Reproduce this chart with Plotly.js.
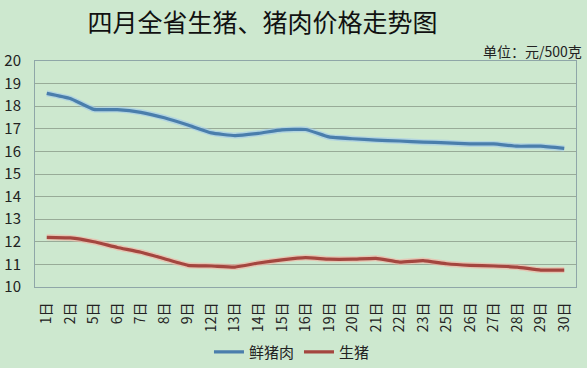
<!DOCTYPE html>
<html>
<head>
<meta charset="utf-8">
<script src="https://cdn.plot.ly/plotly-3.0.1.min.js"></script>
<style>html,body{margin:0;padding:0;background:#cde8cf;}#chart{width:587px;height:368px;}</style>
</head>
<body>
<div id="chart"></div>
<script>
const days = ["1日","2日","5日","6日","7日","8日","9日","12日","13日","14日","15日","16日","19日","20日","21日","22日","23日","25日","26日","27日","28日","29日","30日"];
const freshPork = [18.57,18.34,17.86,17.85,17.73,17.49,17.17,16.82,16.7,16.8,16.95,16.97,16.64,16.56,16.5,16.46,16.41,16.38,16.33,16.33,16.23,16.23,16.13];
const livePig = [12.2,12.17,12.0,11.75,11.54,11.25,10.96,10.93,10.88,11.06,11.2,11.3,11.23,11.23,11.27,11.1,11.17,11.03,10.96,10.93,10.88,10.75,10.75];
const seriesNames = ["鲜猪肉","生猪"];
const titleText = "四月全省生猪、猪肉价格走势图";
const unitText = "单位：元/500克";

const font = "'Noto Sans CJK SC', 'Noto Sans', sans-serif";
const traces = [
  {x: days, y: freshPork, type: 'scatter', mode: 'lines', showlegend: false, hoverinfo: 'skip',
   line: {color: 'rgba(160,200,235,0.6)', width: 6, shape: 'spline', smoothing: 0.4}},
  {x: days, y: livePig, type: 'scatter', mode: 'lines', showlegend: false, hoverinfo: 'skip',
   line: {color: 'rgba(245,175,160,0.6)', width: 6, shape: 'spline', smoothing: 0.4}},
  {x: days, y: freshPork, name: seriesNames[0], type: 'scatter', mode: 'lines',
   line: {color: '#4a7eac', width: 3.2, shape: 'spline', smoothing: 0.4}},
  {x: days, y: livePig, name: seriesNames[1], type: 'scatter', mode: 'lines',
   line: {color: '#a4463f', width: 3.2, shape: 'spline', smoothing: 0.4}}
];
const layout = {
  width: 587, height: 368,
  paper_bgcolor: '#cde8cf', plot_bgcolor: '#cde8cf',
  margin: {l: 35, r: 11, t: 61, b: 81},
  font: {family: font, color: '#222', size: 13},
  title: {text: titleText, x: 0.447, xanchor: 'center', y: 0.937, yanchor: 'middle', yref: 'container', xref: 'container',
          font: {family: font, size: 25, color: '#111'}},
  xaxis: {type: 'category', range: [-0.5, 22.5], tickangle: -90, showgrid: false,
          showline: true, linecolor: '#8fa6a8', linewidth: 1, mirror: true, ticks: '',
          ticklabelstandoff: 9,
          tickfont: {family: font, size: 14, color: '#222'}, fixedrange: true},
  yaxis: {range: [10, 20], dtick: 1, showgrid: true, gridcolor: '#98ab98', gridwidth: 1,
          showline: true, linecolor: '#8fa6a8', linewidth: 1, mirror: true, ticks: '',
          ticklabelstandoff: 10,
          zeroline: false, tickfont: {family: font, size: 15, color: '#222'}, fixedrange: true},
  legend: {orientation: 'h', x: 0.475, xanchor: 'center', y: 0.043, yanchor: 'middle', yref: 'container',
           font: {family: font, size: 15, color: '#222'}, bgcolor: 'rgba(0,0,0,0)', itemwidth: 30},
  annotations: [{text: unitText, xref: 'paper', yref: 'paper', x: 1.015, xanchor: 'right',
                 y: 1.045, yanchor: 'middle', showarrow: false, font: {family: font, size: 14, color: '#222'}}]
};
Plotly.newPlot('chart', traces, layout, {displayModeBar: false, staticPlot: true});
</script>
</body>
</html>
